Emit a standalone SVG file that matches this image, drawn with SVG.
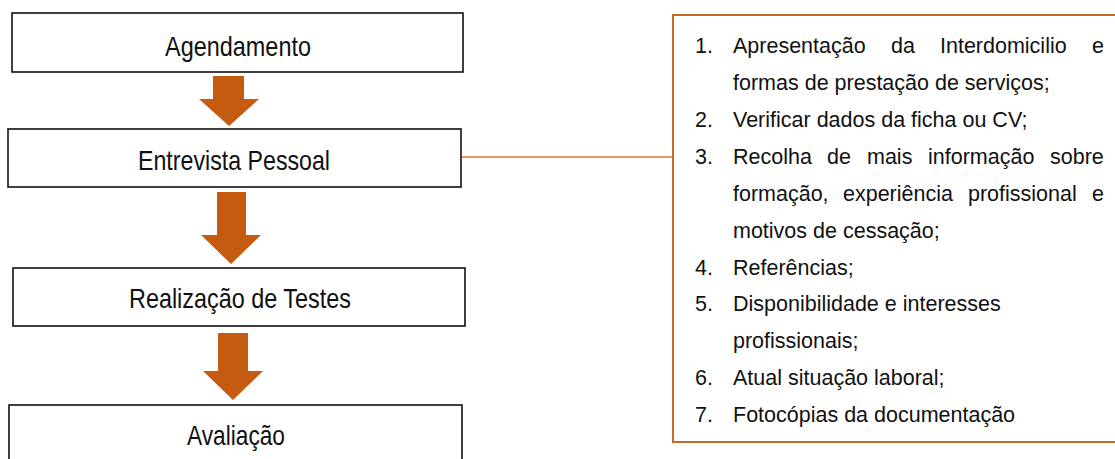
<svg xmlns="http://www.w3.org/2000/svg" width="1115" height="459" viewBox="0 0 1115 459">
<style>
.box{fill:#fff;stroke:#111;stroke-width:1.6}
.lbl{font-family:"Liberation Sans",Arial,sans-serif;font-size:28px;fill:#111;text-anchor:middle}
.arr{fill:#C55A11}
.lst{font-family:"Liberation Sans",Arial,sans-serif;font-size:21.5px;fill:#111}
.panel{fill:#fff;stroke:#C9692A;stroke-width:2}
</style>
<rect width="1115" height="459" fill="#fff"/>
<g id="connectors">
<line x1="462" y1="157" x2="673" y2="157" stroke="#D9773A" stroke-width="1.5"/>
<polygon class="arr" points="213,76 244,76 244,99 259,99 229,126 199,99 213,99"/>
<polygon class="arr" points="217,192 246,192 246,235 261,235 231,264 201,235 217,235"/>
<polygon class="arr" points="218,333 248,333 248,371 263,371 233,400 203,371 218,371"/>
</g>
<g id="agendamento">
<rect class="box" x="12" y="13" width="451" height="59"/>
<text class="lbl" x="238" y="56" textLength="146" lengthAdjust="spacingAndGlyphs">Agendamento</text>
</g>
<g id="entrevista">
<rect class="box" x="8" y="129" width="453" height="58"/>
<text class="lbl" x="234" y="170" textLength="192" lengthAdjust="spacingAndGlyphs">Entrevista Pessoal</text>
</g>
<g id="testes">
<rect class="box" x="13" y="268" width="452" height="58"/>
<text class="lbl" x="240" y="308" textLength="222" lengthAdjust="spacingAndGlyphs">Realização de Testes</text>
</g>
<g id="avaliacao">
<rect class="box" x="9" y="405" width="453" height="70"/>
<text class="lbl" x="236" y="445" textLength="98" lengthAdjust="spacingAndGlyphs">Avaliação</text>
</g>
<g id="lista">
<rect class="panel" x="673" y="15" width="460" height="427"/>
<text class="lst" x="695" y="53">1.</text>
<text class="lst" y="53"><tspan x="733">Apresentação</tspan><tspan x="891">da</tspan><tspan x="940">Interdomicilio</tspan><tspan x="1092">e</tspan></text>
<text class="lst" x="733" y="90">formas de prestação de serviços;</text>
<text class="lst" x="695" y="127">2.</text>
<text class="lst" x="733" y="127">Verificar dados da ficha ou CV;</text>
<text class="lst" x="695" y="164">3.</text>
<text class="lst" y="164"><tspan x="733">Recolha</tspan><tspan x="827">de</tspan><tspan x="867">mais</tspan><tspan x="928">informação</tspan><tspan x="1050">sobre</tspan></text>
<text class="lst" y="201"><tspan x="733">formação,</tspan><tspan x="843">experiência</tspan><tspan x="968">profissional</tspan><tspan x="1092">e</tspan></text>
<text class="lst" x="733" y="238">motivos de cessação;</text>
<text class="lst" x="695" y="275">4.</text>
<text class="lst" x="733" y="275">Referências;</text>
<text class="lst" x="695" y="311">5.</text>
<text class="lst" x="733" y="311">Disponibilidade e interesses</text>
<text class="lst" x="733" y="348">profissionais;</text>
<text class="lst" x="695" y="385">6.</text>
<text class="lst" x="733" y="385">Atual situação laboral;</text>
<text class="lst" x="695" y="422">7.</text>
<text class="lst" x="733" y="422">Fotocópias da documentação</text>
</g>
</svg>
